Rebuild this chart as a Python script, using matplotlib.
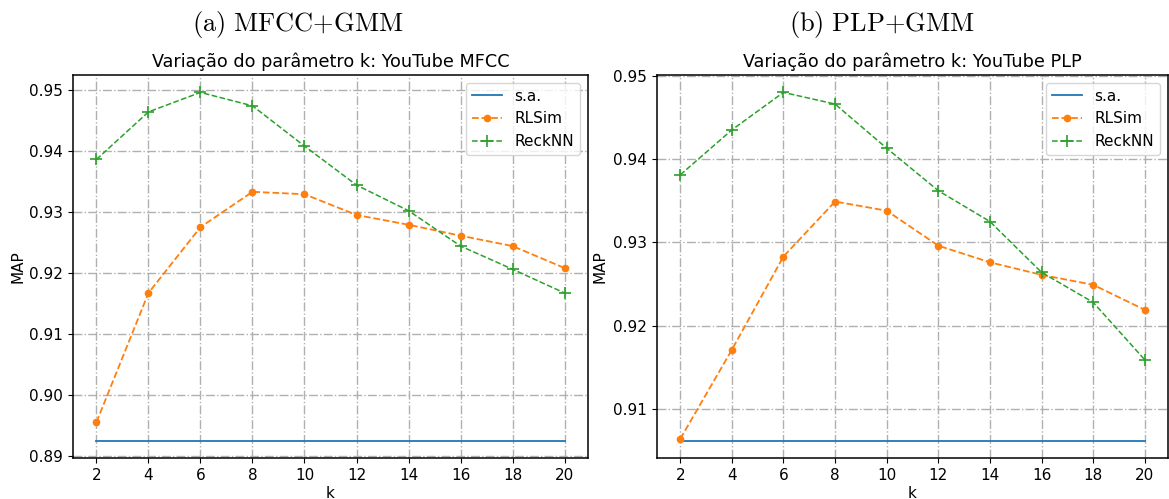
import numpy as np
import matplotlib
matplotlib.use('Agg')
import matplotlib.pyplot as plt

plt.rcParams['mathtext.fontset'] = 'cm'

k = [2, 4, 6, 8, 10, 12, 14, 16, 18, 20]

# YouTube MFCC
mfcc_sa = 0.8925
mfcc_rlsim = [0.8955, 0.9167, 0.9275, 0.9333, 0.9329, 0.9295, 0.9279, 0.9261, 0.9244, 0.9208]
mfcc_recknn = [0.9386, 0.9464, 0.9496, 0.9474, 0.9408, 0.9344, 0.9302, 0.9244, 0.9206, 0.9167]

# YouTube PLP
plp_sa = 0.9062
plp_rlsim = [0.9064, 0.9171, 0.9283, 0.9349, 0.9338, 0.9296, 0.9276, 0.9261, 0.9249, 0.9219]
plp_recknn = [0.9381, 0.9435, 0.9480, 0.9466, 0.9413, 0.9362, 0.9325, 0.9264, 0.9228, 0.9159]

titles = ['Variação do parâmetro k: YouTube MFCC', 'Variação do parâmetro k: YouTube PLP']
captions = [r'$\mathrm{(a)\ MFCC{+}GMM}$', r'$\mathrm{(b)\ PLP{+}GMM}$']

W, H = 1169, 499
fig = plt.figure(figsize=(W/100., H/100.), dpi=100)

# axes boxes in pixels: left, right, top, bottom
boxes = [(73, 588, 75, 458), (657, 1168, 75, 458)]
caption_x = [298, 882]
ylabel_x = [25, 607]

data = [(mfcc_sa, mfcc_rlsim, mfcc_recknn), (plp_sa, plp_rlsim, plp_recknn)]

for i in range(2):
	l, r, t, b = boxes[i]
	ax = fig.add_axes([l/float(W), 1-b/float(H), (r-l)/float(W), (b-t)/float(H)])
	sa, rl, rk = data[i]
	ax.plot(k, [sa]*len(k), '-', color='#1f77b4', lw=1.3, label='s.a.')
	ax.plot(k, rl, '--', color='#ff7f0e', marker='o', ms=4.5, lw=1.3, label='RLSim')
	ax.plot(k, rk, '--', color='#2ca02c', marker='+', ms=8, mew=1.2, lw=1.1, label='ReckNN')
	ax.set_xticks(k)
	ax.grid(True, linestyle='-.', color='#b0b0b0', lw=1.0)
	ax.tick_params(labelsize=11)
	for s in ax.spines.values():
		s.set_linewidth(1.1)
	ax.set_title(titles[i], fontsize=12.7)
	ax.set_xlabel('k', fontsize=11, labelpad=2)
	ax.set_ylabel('MAP', fontsize=11)
	ax.yaxis.set_label_coords((ylabel_x[i]-l)/float(r-l), 0.5)
	leg = ax.legend(loc='upper right', fontsize=11)
	fig.text(caption_x[i]/float(W), 1-24/float(H), captions[i], fontsize=19, ha='center', va='center')

fig.savefig('out.png', dpi=100)
